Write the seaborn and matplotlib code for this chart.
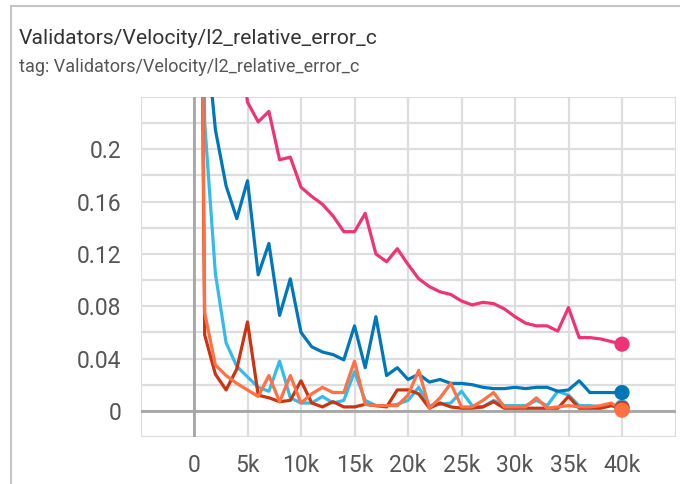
import numpy as np
import pandas as pd
import matplotlib
matplotlib.use("Agg")
import matplotlib.pyplot as plt
from matplotlib.patches import Rectangle
import seaborn as sns

# Validation steps (every 1k iterations)
steps = list(range(0, 41000, 1000))

run_pink = [1.10, 0.62, 0.45, 0.36, 0.30, 0.236, 0.221, 0.229, 0.192, 0.194,
            0.171, 0.164, 0.158, 0.149, 0.137, 0.137, 0.151, 0.120, 0.114, 0.124,
            0.112, 0.101, 0.095, 0.091, 0.089, 0.084, 0.081, 0.083, 0.082, 0.078,
            0.072, 0.067, 0.065, 0.065, 0.061, 0.079, 0.056, 0.056, 0.055, 0.053,
            0.051]
run_blue = [1.00, 0.30, 0.215, 0.172, 0.147, 0.176, 0.104, 0.128, 0.073, 0.101,
            0.060, 0.049, 0.045, 0.043, 0.039, 0.065, 0.033, 0.072, 0.027, 0.033,
            0.024, 0.028, 0.022, 0.024, 0.021, 0.021, 0.020, 0.018, 0.017, 0.017,
            0.018, 0.017, 0.018, 0.018, 0.015, 0.016, 0.023, 0.014, 0.014, 0.014,
            0.014]
run_lightblue = [1.00, 0.22, 0.105, 0.052, 0.034, 0.026, 0.018, 0.015, 0.038, 0.010,
                 0.006, 0.006, 0.011, 0.006, 0.008, 0.030, 0.008, 0.004, 0.004, 0.005,
                 0.008, 0.018, 0.004, 0.005, 0.006, 0.015, 0.004, 0.003, 0.008, 0.004,
                 0.004, 0.004, 0.008, 0.004, 0.015, 0.012, 0.004, 0.004, 0.003, 0.004,
                 0.003]
run_darkred = [1.00, 0.058, 0.028, 0.016, 0.032, 0.068, 0.012, 0.010, 0.007, 0.008,
               0.023, 0.006, 0.003, 0.007, 0.003, 0.003, 0.005, 0.004, 0.003, 0.016,
               0.016, 0.013, 0.002, 0.006, 0.003, 0.002, 0.002, 0.003, 0.007, 0.002,
               0.002, 0.002, 0.002, 0.002, 0.002, 0.011, 0.002, 0.002, 0.002, 0.004,
               0.002]
run_orange = [1.00, 0.075, 0.035, 0.027, 0.021, 0.016, 0.011, 0.027, 0.007, 0.027,
              0.006, 0.013, 0.018, 0.014, 0.014, 0.038, 0.005, 0.004, 0.004, 0.004,
              0.012, 0.031, 0.002, 0.010, 0.021, 0.003, 0.003, 0.008, 0.014, 0.003,
              0.003, 0.003, 0.010, 0.002, 0.003, 0.004, 0.003, 0.003, 0.004, 0.006,
              0.0005]

run_names = ["run_lightblue", "run_blue", "run_pink", "run_darkred", "run_orange"]
run_values = [run_lightblue, run_blue, run_pink, run_darkred, run_orange]
run_colors = ["#33bbee", "#0077bb", "#ee3377", "#cc3311", "#ff7043"]

xtick_values = list(range(-5000, 45001, 5000))
xtick_labels = ["", "0", "5k", "10k", "15k", "20k", "25k", "30k", "35k", "40k", ""]
ytick_values = [round(v, 2) for v in np.arange(-0.02, 0.2401, 0.02)]
ytick_labels = ["", "0", "", "0.04", "", "0.08", "", "0.12", "", "0.16", "", "0.2", "", ""]

title = "Validators/Velocity/l2_relative_error_c"
subtitle = "tag: Validators/Velocity/l2_relative_error_c"

sns.set_theme(style="white")
plt.rcParams["font.family"] = ["Roboto", "DejaVu Sans"]

df = pd.concat(
    [pd.DataFrame({"step": steps, "value": vals, "run": name})
     for name, vals in zip(run_names, run_values)],
    ignore_index=True,
)

fig = plt.figure(figsize=(6.8, 4.84), dpi=100)
W, H = 680, 484
ax = fig.add_axes([140.5 / W, 1 - 437 / H, 535 / W, 340 / H])

grid_c = "#dddddd"
ax.set_xlim(-5000, 45000)
ax.set_ylim(-0.02, 0.24)
ax.set_xticks(xtick_values)
ax.set_xticklabels(xtick_labels)
ax.set_yticks(ytick_values)
ax.set_yticklabels(ytick_labels)
ax.grid(True, color=grid_c, lw=1.6, zorder=0)
for s in ax.spines.values():
    s.set_visible(False)
ax.tick_params(axis="both", length=7, width=1.6, color=grid_c,
               labelcolor="#555555", labelsize=16.5)
ax.tick_params(axis="y", pad=7)
ax.tick_params(axis="x", pad=6, length=6)
ax.axhline(0, color="#a6a6a6", lw=2, zorder=1)
ax.axvline(0, color="#a6a6a6", lw=2, zorder=1)

sns.lineplot(data=df, x="step", y="value", hue="run", hue_order=run_names,
             palette=dict(zip(run_names, run_colors)), lw=2.3, ax=ax,
             legend=False, zorder=3)

last = df[df["step"] == df["step"].max()]
sns.scatterplot(data=last, x="step", y="value", hue="run", hue_order=run_names,
                palette=dict(zip(run_names, run_colors)), s=120, linewidth=0,
                ax=ax, legend=False, zorder=4, clip_on=False)
ax.set_xlabel("")
ax.set_ylabel("")

fig.text(19 / W, 1 - 38 / H, title, fontsize=15.2, color="#333333",
         va="center", ha="left")
fig.text(19 / W, 1 - 67 / H, subtitle, fontsize=13, color="#555555",
         va="center", ha="left")

# card outline (left and top edges)
fig.add_artist(Rectangle((11 / W, -0.5), 2.0, 0.5 + 1 - 6 / H,
                         transform=fig.transFigure, fill=False,
                         edgecolor="#c4c4c4", lw=1.5))

fig.savefig("out.png", dpi=100)
